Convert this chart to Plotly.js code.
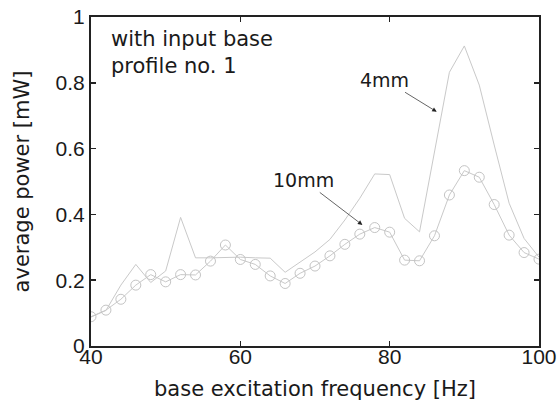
<!DOCTYPE html>
<html>
<head>
<meta charset="utf-8">
<script src="https://cdn.plot.ly/plotly-3.0.1.min.js"></script>
<style>html,body{margin:0;padding:0;background:#fff;}#chart{width:560px;height:413px;}</style>
</head>
<body>
<div id="chart"></div>
<script>
const freq = [40,42,44,46,48,50,52,54,56,58,60,62,64,66,68,70,72,74,76,78,80,82,84,86,88,90,92,94,96,98,100];
const power4mm = [0.088,0.108,0.185,0.248,0.193,0.228,0.391,0.268,0.268,0.270,0.270,0.268,0.267,0.224,0.256,0.286,0.324,0.383,0.449,0.523,0.521,0.388,0.347,0.590,0.832,0.912,0.793,0.611,0.434,0.327,0.270];
const power10mm = [0.089,0.109,0.142,0.185,0.217,0.195,0.217,0.216,0.258,0.307,0.263,0.248,0.213,0.190,0.221,0.243,0.274,0.309,0.340,0.360,0.346,0.261,0.259,0.335,0.459,0.533,0.513,0.430,0.337,0.284,0.264];
const xTicks = [40,60,80,100];
const yTicks = [0,0.2,0.4,0.6,0.8,1];
const yTickText = ['0','0.2','0.4','0.6','0.8','1'];

const FONT = 'DejaVu Sans, sans-serif';
const TICKFONT = '"Liberation Sans", Arial, sans-serif';
const traces = [
  {x: freq, y: power4mm, type: 'scatter', mode: 'lines', name: '4mm',
   line: {color: '#c9c9c9', width: 1}},
  {x: freq, y: power10mm, type: 'scatter', mode: 'lines+markers', name: '10mm',
   line: {color: '#c9c9c9', width: 1},
   marker: {symbol: 'circle-open', size: 10, color: '#c4c4c4', line: {width: 1, color: '#c4c4c4'}}}
];
const layout = {
  width: 560, height: 413,
  margin: {l: 91, r: 21, t: 17, b: 67},
  paper_bgcolor: '#fff', plot_bgcolor: '#fff',
  showlegend: false,
  font: {family: FONT, color: '#1a1a1a', size: 18},
  xaxis: {range: [40, 100], tickvals: xTicks, ticktext: xTicks.map(String),
    ticks: 'inside', ticklen: 5, tickwidth: 1.5, tickcolor: '#222',
    showline: true, linecolor: '#222', linewidth: 2, mirror: 'ticks',
    showgrid: false, zeroline: false, ticklabelstandoff: -9,
    tickfont: {size: 21, family: TICKFONT, color: '#1a1a1a'},
    title: {text: 'base excitation frequency [Hz]', font: {size: 21, family: FONT}, standoff: 14}},
  yaxis: {range: [0, 1], tickvals: yTicks, ticktext: yTickText,
    ticks: 'inside', ticklen: 5, tickwidth: 1.5, tickcolor: '#222',
    showline: true, linecolor: '#222', linewidth: 2, mirror: 'ticks',
    showgrid: false, zeroline: false,
    tickfont: {size: 21, family: TICKFONT, color: '#1a1a1a'},
    title: {text: 'average power [mW]', font: {size: 21, family: FONT}, standoff: 20}},
  annotations: [
    {xref: 'paper', yref: 'paper', x: 0.04, y: 0.975, xanchor: 'left', yanchor: 'top',
     align: 'left', showarrow: false, text: 'with input base<br>profile no. 1',
     font: {size: 21, family: FONT, color: '#1a1a1a'}},
    {x: 86.3, y: 0.712, ax: -52, ay: -32, text: '4mm', showarrow: true,
     arrowhead: 2, arrowsize: 1.3, arrowwidth: 0.7, arrowcolor: '#222',
     font: {size: 19, family: FONT, color: '#1a1a1a'}},
    {x: 76.35, y: 0.368, ax: -59, ay: -45, text: '10mm', showarrow: true,
     arrowhead: 2, arrowsize: 1.3, arrowwidth: 0.7, arrowcolor: '#222',
     font: {size: 19, family: FONT, color: '#1a1a1a'}}
  ]
};
Plotly.newPlot('chart', traces, layout, {staticPlot: true, displayModeBar: false});
</script>
</body>
</html>
